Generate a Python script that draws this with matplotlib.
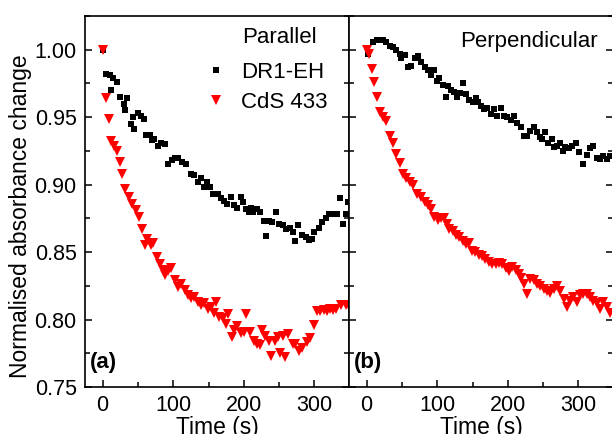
import matplotlib.pyplot as plt
from matplotlib.ticker import MultipleLocator

plt.rcParams['font.family'] = ['Liberation Sans', 'DejaVu Sans']

# (a) Parallel
t_a_dr1 = [0, 5, 10, 12, 15, 20, 25, 30, 32, 35, 40, 43, 45, 50, 55, 58, 62, 67, 70, 73,
           78, 83, 88, 93, 98, 102, 107, 112, 118, 125, 130, 135, 139, 143, 148, 152, 157, 163, 167, 172,
           176, 182, 186, 190, 196, 199, 203, 208, 210, 213, 219, 223, 229, 232, 236, 240, 245, 250, 255, 260,
           265, 270, 272, 277, 283, 288, 293, 297, 300, 306, 311, 316, 321, 327, 332, 336, 340, 345, 348]
v_a_dr1 = [1.000, 0.982, 0.981, 0.970, 0.979, 0.976, 0.965, 0.960, 0.955, 0.964,
           0.945, 0.950, 0.941, 0.953, 0.951, 0.949, 0.937, 0.937, 0.933, 0.934,
           0.929, 0.931, 0.930, 0.915, 0.918, 0.920, 0.920, 0.917, 0.915, 0.908,
           0.907, 0.902, 0.905, 0.898, 0.902, 0.898, 0.893, 0.893, 0.890, 0.888,
           0.886, 0.891, 0.885, 0.883, 0.891, 0.887, 0.882, 0.880, 0.883, 0.880,
           0.882, 0.880, 0.873, 0.862, 0.873, 0.872, 0.880, 0.871, 0.870, 0.867,
           0.868, 0.865, 0.858, 0.870, 0.863, 0.861, 0.859, 0.860, 0.865, 0.868,
           0.872, 0.875, 0.878, 0.878, 0.878, 0.890, 0.871, 0.878, 0.887]

t_a_cds = [0, 5, 9, 12, 16, 20, 24, 28, 32, 37, 42, 47, 51, 56, 60, 63, 68, 72, 77, 81,
           86, 88, 93, 97, 102, 107, 111, 116, 121, 125, 130, 135, 139, 144, 149, 153, 158, 160, 165, 170,
           175, 177, 183, 186, 191, 196, 200, 203, 209, 214, 218, 223, 226, 230, 235, 239, 244, 248, 251, 255,
           259, 263, 269, 273, 278, 283, 290, 294, 299, 303, 308, 313, 318, 322, 327, 331, 338, 345, 349]
v_a_cds = [1.000, 0.964, 0.949, 0.932, 0.929, 0.925, 0.917, 0.908, 0.897, 0.891,
           0.886, 0.881, 0.876, 0.867, 0.855, 0.860, 0.855, 0.857, 0.846, 0.841,
           0.837, 0.833, 0.836, 0.838, 0.829, 0.824, 0.826, 0.822, 0.818, 0.816,
           0.817, 0.813, 0.811, 0.812, 0.808, 0.809, 0.805, 0.813, 0.802, 0.801,
           0.797, 0.804, 0.787, 0.792, 0.795, 0.790, 0.791, 0.804, 0.791, 0.784,
           0.782, 0.781, 0.792, 0.788, 0.784, 0.773, 0.784, 0.787, 0.775, 0.788,
           0.772, 0.789, 0.782, 0.782, 0.777, 0.779, 0.783, 0.786, 0.796, 0.806,
           0.806, 0.807, 0.806, 0.808, 0.807, 0.808, 0.811, 0.811, 0.810]

# (b) Perpendicular
t_b_dr1 = [2, 9, 14, 19, 23, 28, 33, 38, 42, 47, 49, 54, 59, 63, 68, 73, 77, 82, 87, 91,
           96, 99, 103, 108, 113, 115, 120, 124, 128, 132, 137, 141, 145, 150, 155, 158, 162, 166, 171, 176,
           180, 185, 190, 195, 199, 204, 209, 213, 218, 223, 227, 232, 237, 242, 246, 249, 253, 257, 262, 265,
           270, 274, 278, 281, 286, 291, 296, 301, 307, 312, 317, 321, 326, 331, 335, 340, 345]
v_b_dr1 = [0.997, 1.006, 1.007, 1.007, 1.007, 1.006, 1.003, 1.002, 1.000, 0.997,
           0.994, 0.996, 0.987, 0.988, 0.994, 0.995, 0.991, 0.987, 0.985, 0.981,
           0.985, 0.977, 0.979, 0.974, 0.965, 0.973, 0.970, 0.969, 0.965, 0.968,
           0.975, 0.967, 0.963, 0.961, 0.964, 0.961, 0.958, 0.956, 0.957, 0.952,
           0.956, 0.951, 0.957, 0.951, 0.950, 0.948, 0.951, 0.946, 0.943, 0.936,
           0.936, 0.940, 0.943, 0.939, 0.935, 0.934, 0.939, 0.931, 0.934, 0.928,
           0.929, 0.931, 0.925, 0.928, 0.927, 0.929, 0.931, 0.924, 0.915, 0.922,
           0.927, 0.929, 0.920, 0.919, 0.921, 0.919, 0.921]

t_b_cds = [0, 4, 7, 11, 15, 19, 23, 27, 33, 38, 42, 47, 52, 56, 61, 66, 71, 77, 82, 87,
           91, 96, 101, 106, 110, 114, 117, 122, 127, 131, 136, 141, 145, 149, 154, 159, 164, 168, 173, 178,
           183, 188, 192, 197, 202, 206, 211, 216, 219, 223, 227, 232, 237, 242, 246, 251, 256, 260, 265, 270,
           274, 279, 284, 288, 293, 298, 302, 307, 312, 317, 321, 326, 331, 335, 340, 345]
v_b_cds = [1.000, 0.997, 0.986, 0.976, 0.965, 0.954, 0.950, 0.947, 0.936, 0.931,
           0.923, 0.916, 0.908, 0.905, 0.902, 0.900, 0.893, 0.891, 0.887, 0.885,
           0.882, 0.876, 0.874, 0.875, 0.875, 0.871, 0.867, 0.866, 0.863, 0.861,
           0.858, 0.856, 0.857, 0.851, 0.850, 0.848, 0.847, 0.845, 0.843, 0.841,
           0.841, 0.842, 0.841, 0.838, 0.836, 0.839, 0.837, 0.834, 0.831, 0.826,
           0.819, 0.830, 0.829, 0.826, 0.825, 0.823, 0.821, 0.820, 0.823, 0.825,
           0.821, 0.815, 0.809, 0.814, 0.817, 0.813, 0.818, 0.819, 0.819, 0.817,
           0.814, 0.812, 0.808, 0.813, 0.809, 0.805]

fig = plt.figure(figsize=(6.12, 4.34), dpi=100)
ax1 = fig.add_axes([85/612, 1-387/434, 264/612, 371/434])
ax2 = fig.add_axes([349/612, 1-387/434, 264/612, 371/434], sharey=ax1)

for ax, (td, vd, tc, vc) in zip([ax1, ax2], [(t_a_dr1, v_a_dr1, t_a_cds, v_a_cds),
                                             (t_b_dr1, v_b_dr1, t_b_cds, v_b_cds)]):
    ax.plot(td, vd, 's', color='black', ms=5, mew=0, label='DR1-EH')
    ax.plot(tc, vc, 'v', color='red', ms=6.5, mew=0, label='CdS 433')
    ax.set_xlim(-25, 349)
    ax.set_ylim(0.75, 1.025)
    ax.xaxis.set_major_locator(MultipleLocator(100))
    ax.xaxis.set_minor_locator(MultipleLocator(50))
    ax.yaxis.set_major_locator(MultipleLocator(0.05))
    ax.yaxis.set_minor_locator(MultipleLocator(0.025))
    ax.tick_params(which='both', direction='in', right=True, top=False, width=1.1,
                   labelsize=15.5, pad=6)
    ax.tick_params(which='major', length=5)
    ax.tick_params(which='minor', length=3.5)
    for s in ax.spines.values():
        s.set_linewidth(1.2)
    ax.set_xlabel('Time (s)', fontsize=16.5, labelpad=0)

ax1.yaxis.set_major_formatter(plt.FormatStrFormatter('%.2f'))
ax1.set_ylabel('Normalised absorbance change', fontsize=16.5)
ax1.yaxis.set_label_coords(-0.2, 0.46)
ax2.tick_params(labelleft=False)

ax1.text(0.595, 0.941, 'Parallel', transform=ax1.transAxes, fontsize=16, va='center', ha='left')
ax2.text(0.42, 0.93, 'Perpendicular', transform=ax2.transAxes, fontsize=16, va='center', ha='left')
ax1.legend(loc='upper left', bbox_to_anchor=(0.413, 0.9), frameon=False, fontsize=16,
           handlelength=1.2, handletextpad=0.5, labelspacing=0.4, borderaxespad=0)

ax1.text(0.02, 0.067, '(a)', transform=ax1.transAxes, fontsize=16, fontweight='bold', va='center')
ax2.text(0.02, 0.067, '(b)', transform=ax2.transAxes, fontsize=16, fontweight='bold', va='center')

fig.savefig('out.png', dpi=100)
